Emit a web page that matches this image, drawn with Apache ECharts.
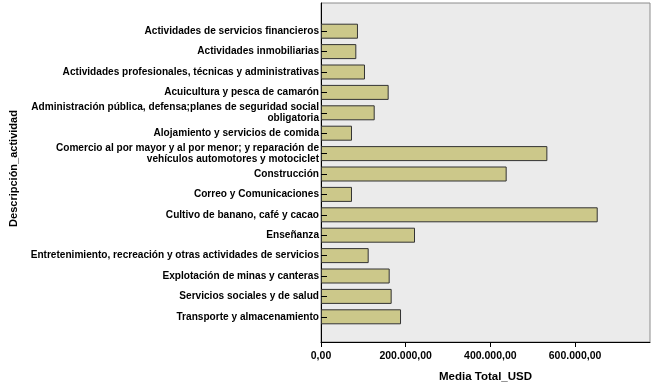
<!DOCTYPE html>
<html>
<head>
<meta charset="utf-8">
<script src="https://cdn.jsdelivr.net/npm/echarts@6/dist/echarts.min.js"></script>
<style>
html,body{margin:0;padding:0;background:#fff;}
#chart{width:655px;height:388px;}
</style>
</head>
<body>
<div id="chart"></div>
<script>
var categories = [
  'Actividades de servicios financieros',
  'Actividades inmobiliarias',
  'Actividades profesionales, técnicas y administrativas',
  'Acuicultura y pesca de camarón',
  'Administración pública, defensa;planes de seguridad social\nobligatoria',
  'Alojamiento y servicios de comida',
  'Comercio al por mayor y al por menor; y reparación de\nvehículos automotores y motociclet',
  'Construcción',
  'Correo y Comunicaciones',
  'Cultivo de banano, café y cacao',
  'Enseñanza',
  'Entretenimiento, recreación y otras actividades de servicios',
  'Explotación de minas y canteras',
  'Servicios sociales y de salud',
  'Transporte y almacenamiento'
];
var mediaTotalUSD = [87300, 83400, 103900, 159800, 126800, 73200, 534600, 438500, 73200, 653500, 222000, 112600, 162200, 166900, 189000];
var xTickValues = [0, 200000, 400000, 600000];
var xAxisMax = 777000;
var xAxisTitle = 'Media Total_USD';
var yAxisTitle = 'Descripción_actividad';

function fmt(v) {
  var s = Math.round(v).toString().replace(/\B(?=(\d{3})+(?!\d))/g, '.');
  return s + ',00';
}

var FONT = 'Liberation Sans, Arial, sans-serif';
var chart = echarts.init(document.getElementById('chart'));
chart.setOption({
  animation: false,
  grid: [
    {left: 321, right: 5, top: 3, bottom: 44, show: true, backgroundColor: '#ebebeb', borderColor: '#8c8c8c', borderWidth: 1},
    {left: 321, right: 5, top: 21, bottom: 61}
  ],
  xAxis: [
    {
      gridIndex: 0, type: 'value', min: 0, max: xAxisMax, interval: xTickValues[1] - xTickValues[0],
      axisLine: {show: true, lineStyle: {color: '#000', width: 1}},
      axisTick: {show: true, length: 5, lineStyle: {color: '#000'}},
      axisLabel: {show: true, showMaxLabel: false, margin: 9, color: '#000', fontFamily: FONT, fontWeight: 'bold', fontSize: 10.5, formatter: fmt},
      splitLine: {show: false},
      name: xAxisTitle, nameLocation: 'middle', nameGap: 29,
      nameTextStyle: {color: '#000', fontFamily: FONT, fontWeight: 'bold', fontSize: 11.5}
    },
    {gridIndex: 1, type: 'value', min: 0, max: xAxisMax, show: false}
  ],
  yAxis: [
    {
      gridIndex: 0, type: 'value', min: 0, max: 1,
      axisLine: {show: true, lineStyle: {color: '#000', width: 1}},
      axisTick: {show: false}, axisLabel: {show: false}, splitLine: {show: false},
      name: yAxisTitle, nameLocation: 'middle', nameGap: 302,
      nameTextStyle: {color: '#000', fontFamily: FONT, fontWeight: 'bold', fontSize: 11, padding: [0, 0, 0, 8]}
    },
    {
      gridIndex: 1, type: 'category', data: categories, inverse: true, z: 5,
      axisLine: {show: false},
      axisTick: {show: true, inside: true, length: 6, alignWithLabel: true, lineStyle: {color: '#000'}},
      axisLabel: {show: true, interval: 0, margin: 2, color: '#000', fontFamily: FONT, fontWeight: 'bold', fontSize: 10.1, lineHeight: 11},
      splitLine: {show: false}
    }
  ],
  series: [{
    type: 'bar', xAxisIndex: 1, yAxisIndex: 1, data: mediaTotalUSD, barWidth: 15,
    itemStyle: {color: '#ccc88a', borderColor: '#333', borderWidth: 1}
  }]
});
</script>
</body>
</html>
